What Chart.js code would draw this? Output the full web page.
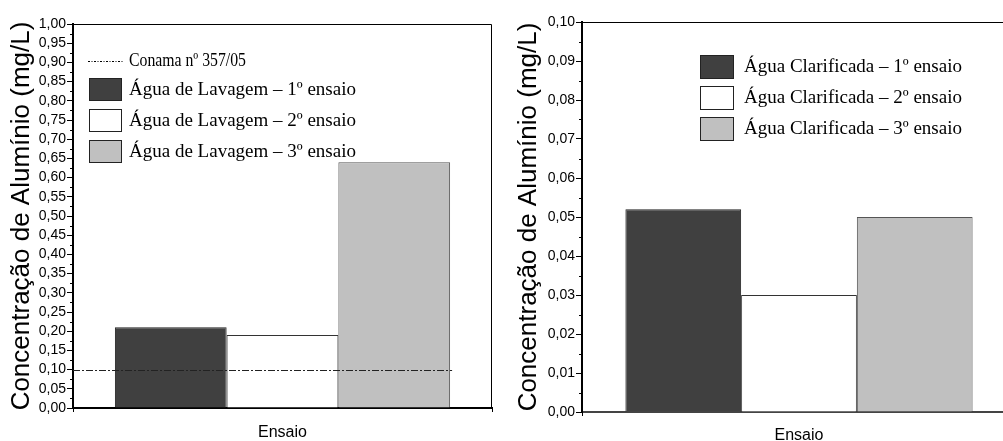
<!DOCTYPE html>
<html>
<head>
<meta charset="utf-8">
<script src="https://cdn.jsdelivr.net/npm/chart.js@4.4.0/dist/chart.umd.min.js"></script>
<style>
html, body { margin: 0; padding: 0; background: #fff; overflow: hidden; width: 1003px; height: 441px; }
#left { position: absolute; left: 0; top: 0; width: 500px; height: 441px; }
#right { position: absolute; left: 500px; top: 0; width: 530px; height: 441px; }
</style>
</head>
<body>
<div id="left"><canvas id="chartLavagem"></canvas></div>
<div id="right"><canvas id="chartClarificada"></canvas></div>
<script>
// dados
const categorias = [''];
const ensaios = ['1º ensaio', '2º ensaio', '3º ensaio'];
const lavagem = [0.21, 0.19, 0.64];
const clarificada = [0.052, 0.030, 0.050];
const conamaLimite = 0.10;
const conamaRotulo = 'Conama nº 357/05';
const lavagemEixo = { max: 1.0, passo: 0.05 };
const clarificadaEixo = { max: 0.10, passo: 0.01 };

const cores = ['#404040', '#ffffff', '#c0c0c0'];
const bordas = ['#222222', '#333333', '#555555'];

const fmt = v => v.toFixed(2).replace('.', ',');

// tracinhos menores entre os ticks principais
const minorTicks = {
    id: 'minorTicks',
    afterDraw(chart) {
        const y = chart.scales.y;
        const ctx = chart.ctx;
        const left = chart.chartArea.left;
        ctx.save();
        ctx.strokeStyle = '#000';
        ctx.lineWidth = 1;
        for (let i = 0; i < y.ticks.length - 1; i++) {
            const mid = (y.ticks[i].value + y.ticks[i + 1].value) / 2;
            const py = Math.round(y.getPixelForValue(mid)) + 0.5;
            ctx.beginPath();
            ctx.moveTo(left - 3, py);
            ctx.lineTo(left, py);
            ctx.stroke();
        }
        ctx.restore();
    }
};

// moldura fina em cima e à direita
const moldura = {
    id: 'moldura',
    afterDraw(chart) {
        const a = chart.chartArea;
        const ctx = chart.ctx;
        ctx.save();
        ctx.strokeStyle = '#000';
        ctx.lineWidth = 1;
        ctx.beginPath();
        ctx.moveTo(a.left, a.top + 0.5);
        ctx.lineTo(a.right - 0.5, a.top + 0.5);
        ctx.lineTo(a.right - 0.5, a.bottom);
        ctx.stroke();
        ctx.restore();
    }
};

// linha do limite Conama
const limite = {
    id: 'limite',
    afterDatasetsDraw(chart, args, opts) {
        if (!opts.ativo) return;
        const y = chart.scales.y.getPixelForValue(conamaLimite);
        const metas = chart.getSortedVisibleDatasetMetas();
        const ultima = metas[metas.length - 1].data[0];
        const ctx = chart.ctx;
        ctx.save();
        ctx.strokeStyle = '#222';
        ctx.lineWidth = 1;
        ctx.setLineDash([7, 2, 2, 2]);
        ctx.beginPath();
        ctx.moveTo(chart.chartArea.left, Math.round(y) + 0.5);
        ctx.lineTo(ultima.x + ultima.width / 2 + 2, Math.round(y) + 0.5);
        ctx.stroke();
        ctx.restore();
    }
};

// legenda desenhada dentro da área do gráfico
const legenda = {
    id: 'legenda',
    afterDraw(chart, args, o) {
        const ctx = chart.ctx;
        ctx.save();
        ctx.font = '19px "Liberation Serif", "Times New Roman", serif';
        ctx.textBaseline = 'middle';
        ctx.fillStyle = '#000';
        let cy = o.y;
        if (o.linha) {
            ctx.strokeStyle = '#000';
            ctx.lineWidth = 1;
            ctx.setLineDash([2, 1.5, 1, 1.5]);
            ctx.beginPath();
            ctx.moveTo(o.x - 1, o.linhaY + 0.5);
            ctx.lineTo(o.x + o.boxW + 2, o.linhaY + 0.5);
            ctx.stroke();
            ctx.setLineDash([]);
            ctx.fillText(o.linha, o.textX, o.linhaY, o.linhaW);
        }
        chart.data.datasets.forEach((ds, i) => {
            const top = Math.round(cy - o.boxH / 2) + 0.5;
            ctx.fillStyle = ds.backgroundColor;
            ctx.fillRect(o.x + 0.5, top, o.boxW, o.boxH);
            ctx.strokeStyle = '#222';
            ctx.lineWidth = 1;
            ctx.strokeRect(o.x + 0.5, top, o.boxW, o.boxH);
            ctx.fillStyle = '#000';
            ctx.fillText(ds.label, o.textX, cy + 1);
            cy += o.gap;
        });
        ctx.restore();
    }
};

function montar(id, serie, prefixo, eixo, cfg) {
    return new Chart(document.getElementById(id), {
        type: 'bar',
        data: {
            labels: categorias,
            datasets: serie.map((v, i) => ({
                label: prefixo + ' – ' + ensaios[i],
                data: [v],
                backgroundColor: cores[i],
                borderColor: bordas[i],
                borderWidth: 1,
                categoryPercentage: 0.8,
                barPercentage: 1.0
            }))
        },
        options: {
            responsive: true,
            maintainAspectRatio: false,
            animation: false,
            layout: { padding: cfg.padding },
            plugins: {
                legend: { display: false },
                tooltip: { enabled: false },
                legenda: cfg.legenda,
                limite: { ativo: cfg.limite }
            },
            scales: {
                x: {
                    ticks: { display: false },
                    grid: { drawOnChartArea: false, color: '#000', tickLength: 4 },
                    border: { color: cfg.eixoX, width: 2 },
                    title: {
                        display: true, text: 'Ensaio', color: '#000',
                        font: { family: 'Liberation Sans', size: 16, lineHeight: 1 },
                        padding: { top: 0, bottom: cfg.xTitlePad }
                    },
                    afterFit: s => { s.height = cfg.xAltura; }
                },
                y: {
                    min: 0,
                    max: eixo.max,
                    ticks: {
                        stepSize: eixo.passo,
                        autoSkip: false,
                        color: '#000',
                        padding: 1,
                        font: { family: 'Liberation Sans', size: 14 },
                        callback: v => fmt(v)
                    },
                    grid: { drawOnChartArea: false, color: '#000', tickLength: 6 },
                    border: { color: '#000', width: 2 },
                    title: {
                        display: true, text: 'Concentração de Alumínio (mg/L)', color: '#000',
                        font: { family: 'Liberation Sans', size: 26, lineHeight: 1 },
                        padding: { top: cfg.yTitlePad, bottom: 0 }
                    },
                    afterFit: s => { s.width = cfg.yLargura; }
                }
            }
        },
        plugins: [minorTicks, moldura, limite, legenda]
    });
}

montar('chartLavagem', lavagem, 'Água de Lavagem', lavagemEixo, {
    padding: { top: 24, right: 8, left: 0, bottom: 0 },
    yLargura: 73,
    xAltura: 33,
    yTitlePad: 9,
    xTitlePad: 0,
    eixoX: '#000',
    limite: true,
    legenda: { x: 89, y: 89, gap: 31, boxW: 32, boxH: 22, textX: 129, linha: conamaRotulo, linhaY: 61, linhaW: 117 }
});

montar('chartClarificada', clarificada, 'Água Clarificada', clarificadaEixo, {
    padding: { top: 22, right: 14, left: 0, bottom: 0 },
    yLargura: 82,
    xAltura: 29,
    yTitlePad: 16,
    xTitlePad: -3,
    eixoX: '#444',
    limite: false,
    legenda: { x: 200, y: 66, gap: 31, boxW: 33, boxH: 23, textX: 244 }
});
</script>
</body>
</html>
